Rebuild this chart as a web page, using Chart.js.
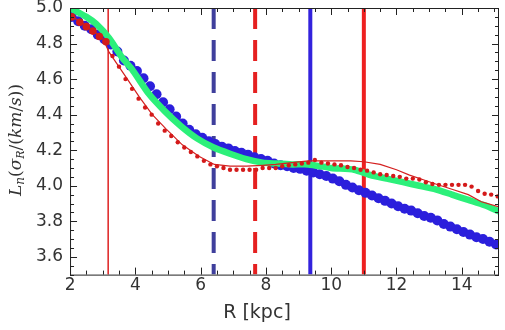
<!DOCTYPE html>
<html>
<head>
<meta charset="utf-8">
<script src="https://cdn.jsdelivr.net/npm/chart.js@4/dist/chart.umd.min.js"></script>
<style>
  html, body { margin: 0; padding: 0; background: #fff; }
</style>
</head>
<body>
<canvas id="chart" width="505" height="330"></canvas>
<script>
// axis ticks
const xTicks = [2, 4, 6, 8, 10, 12, 14];
const yTicks = [3.6, 3.8, 4.0, 4.2, 4.4, 4.6, 4.8, 5.0];

// blue circles
const blueR = [2.05, 2.25, 2.45, 2.65, 2.85, 3.05, 3.25, 3.45, 3.65, 3.85, 4.05, 4.25, 4.45, 4.65, 4.85,
  5.05, 5.25, 5.45, 5.65, 5.85, 6.05, 6.25, 6.45, 6.65, 6.85, 7.05, 7.25, 7.45, 7.65, 7.85,
  8.05, 8.25, 8.45, 8.65, 8.85, 9.05, 9.25, 9.45, 9.65, 9.85, 10.05, 10.25, 10.45, 10.65, 10.85,
  11.05, 11.25, 11.45, 11.65, 11.85, 12.05, 12.25, 12.45, 12.65, 12.85, 13.05, 13.25, 13.45, 13.65, 13.85,
  14.05, 14.25, 14.45, 14.65, 14.85, 15.05];
const blueL = [4.95, 4.925, 4.90, 4.88, 4.85, 4.825, 4.795, 4.755, 4.705, 4.675, 4.645, 4.605, 4.56, 4.515, 4.47,
  4.43, 4.39, 4.35, 4.315, 4.29, 4.27, 4.25, 4.235, 4.22, 4.21, 4.195, 4.185, 4.175, 4.16, 4.15,
  4.14, 4.125, 4.115, 4.11, 4.10, 4.095, 4.085, 4.075, 4.065, 4.055, 4.04, 4.025, 4.005, 3.99, 3.975,
  3.96, 3.945, 3.93, 3.915, 3.90, 3.885, 3.87, 3.86, 3.845, 3.83, 3.82, 3.805, 3.785, 3.77, 3.755,
  3.74, 3.725, 3.71, 3.70, 3.685, 3.67];

// green band
const greenR = [2.0, 2.5, 2.8, 3.2, 3.6, 3.9, 4.4, 4.9, 5.4, 5.9, 6.4, 6.9, 7.4, 7.9, 8.3, 8.8, 9.3,
  10.0, 10.7, 11.2, 11.7, 12.2, 12.7, 13.2, 13.7, 14.2, 14.7, 15.15];
const greenL = [5.0, 4.95, 4.91, 4.83, 4.72, 4.655, 4.52, 4.42, 4.335, 4.265, 4.215, 4.18, 4.15, 4.13, 4.125, 4.12, 4.12,
  4.10, 4.09, 4.06, 4.04, 4.02, 4.0, 3.98, 3.95, 3.92, 3.89, 3.855];

// red dots
const redDotR = [2.05, 2.3, 2.5, 2.7, 2.9, 3.1, 3.3, 3.5, 3.7, 3.9, 4.1, 4.3, 4.5, 4.7, 4.9,
  5.1, 5.3, 5.5, 5.7, 5.9, 6.1, 6.3, 6.5, 6.7, 6.9, 7.1, 7.3, 7.5, 7.7, 7.9,
  8.1, 8.3, 8.5, 8.7, 8.9, 9.1, 9.3, 9.5, 9.7, 9.9, 10.1, 10.3, 10.5, 10.7, 10.9,
  11.1, 11.3, 11.5, 11.7, 11.9, 12.1, 12.3, 12.5, 12.7, 12.9, 13.1, 13.3, 13.5, 13.7, 13.9,
  14.1, 14.3, 14.5, 14.7, 14.9, 15.1];
const redDotL = [4.95, 4.92, 4.895, 4.87, 4.84, 4.81, 4.73, 4.67, 4.60, 4.545, 4.49, 4.44, 4.40, 4.35, 4.31,
  4.28, 4.245, 4.215, 4.19, 4.165, 4.14, 4.12, 4.11, 4.10, 4.09, 4.09, 4.09, 4.09, 4.09, 4.10,
  4.10, 4.10, 4.11, 4.115, 4.12, 4.125, 4.13, 4.145, 4.13, 4.125, 4.12, 4.115, 4.105, 4.10, 4.09,
  4.085, 4.075, 4.065, 4.06, 4.055, 4.05, 4.04, 4.04, 4.035, 4.02, 4.01, 4.005, 4.005, 4.005, 4.005,
  4.005, 3.995, 3.97, 3.955, 3.95, 3.94];

// thin red line
const redLineR = [2.0, 2.5, 3.0, 3.2, 3.72, 4.12, 4.52, 4.94, 5.44, 5.96, 6.42, 6.9, 7.4, 7.9, 8.3, 8.8, 9.3,
  10.0, 10.6, 11.0, 11.5, 12.0, 12.4, 12.8, 13.2, 13.7, 14.2, 14.6, 15.15];
const redLineL = [4.96, 4.90, 4.83, 4.75, 4.61, 4.50, 4.40, 4.32, 4.23, 4.165, 4.12, 4.11, 4.11, 4.115, 4.12, 4.13, 4.14,
  4.14, 4.14, 4.135, 4.12, 4.09, 4.06, 4.035, 4.01, 3.98, 3.95, 3.91, 3.88];

// vertical markers (R in kpc)
const markThinRed = 3.17;
const markBlueDash = 6.4;
const markRedDash = 7.67;
const markBlue = 9.36;
const markRed = 11.0;

const yMin = 3.5, yMax = 5.0, xMin = 2, xMax = 15.14;

const pts = (xs, ys) => xs.map((x, i) => ({ x: x, y: ys[i] }));
const vline = x => [{ x: x, y: yMax }, { x: x, y: yMin }];

function vDataset(x, color, width, dash) {
  return {
    data: vline(x), borderColor: color, borderWidth: width, borderDash: dash || [],
    pointRadius: 0, showLine: true, clip: 0
  };
}

// frame, inward ticks and axis titles
const framePlugin = {
  id: 'frame',
  afterDraw(chart) {
    const ctx = chart.ctx;
    const a = chart.chartArea;
    const xs = chart.scales.x, ys = chart.scales.y;
    ctx.save();
    ctx.strokeStyle = '#222';
    ctx.lineWidth = 1;
    ctx.strokeRect(a.left + 0.5, a.top + 0.5, a.right - a.left - 1, a.bottom - a.top);
    ctx.beginPath();
    for (let v = 2; v <= xMax + 1e-6; v += 0.5) {
      const px = Math.round(xs.getPixelForValue(v)) + 0.5;
      const len = Math.abs(v % 2) < 1e-6 ? 7 : 4;
      ctx.moveTo(px, a.bottom); ctx.lineTo(px, a.bottom - len);
      ctx.moveTo(px, a.top); ctx.lineTo(px, a.top + len);
    }
    for (let i = 0; i <= 30; i++) {
      const v = yMin + i * 0.05;
      const py = Math.round(ys.getPixelForValue(v)) + 0.5;
      const len = (i % 4 === 2) ? 7 : 4;
      ctx.moveTo(a.left, py); ctx.lineTo(a.left + len, py);
      ctx.moveTo(a.right, py); ctx.lineTo(a.right - len, py);
    }
    ctx.stroke();

    // x title
    ctx.fillStyle = '#333';
    ctx.font = '19px "DejaVu Sans"';
    ctx.textAlign = 'center';
    ctx.textBaseline = 'middle';
    ctx.fillText('R [kpc]', 257, 313);

    // y title with subscripts
    ctx.translate(17, 140);
    ctx.rotate(-Math.PI / 2);
    const parts = [
      ['L', 'italic 17px "DejaVu Serif"', 0],
      ['n', 'italic 12px "DejaVu Serif"', 4],
      ['(', '17px "DejaVu Serif"', 0],
      ['σ', 'italic 17px "DejaVu Serif"', 0],
      ['R', 'italic 11px "DejaVu Serif"', 4],
      ['/(', '17px "DejaVu Serif"', 0],
      ['km', 'italic 17px "DejaVu Serif"', 0],
      ['/', '17px "DejaVu Serif"', 0],
      ['s', 'italic 17px "DejaVu Serif"', 0],
      ['))', '17px "DejaVu Serif"', 0]
    ];
    let total = 0;
    parts.forEach(p => { ctx.font = p[1]; total += ctx.measureText(p[0]).width; });
    let cx = -total / 2;
    ctx.textAlign = 'left';
    parts.forEach(p => {
      ctx.font = p[1];
      ctx.fillText(p[0], cx, p[2]);
      cx += ctx.measureText(p[0]).width;
    });
    ctx.restore();
  }
};

new Chart(document.getElementById('chart'), {
  type: 'scatter',
  data: {
    datasets: [
      {
        data: pts(redDotR, redDotL), showLine: false, clip: 0,
        pointRadius: c => (c.raw && c.raw.x < 3.2 ? 3.8 : 2.2),
        pointBackgroundColor: '#d41a1a', pointBorderWidth: 0
      },
      {
        data: pts(redLineR, redLineL), showLine: true, borderColor: '#d42020',
        borderWidth: 1.2, pointRadius: 0, clip: 0
      },
      {
        data: pts(greenR, greenL), showLine: true, borderColor: '#2cf07a',
        borderWidth: 6.5, pointRadius: 0, clip: 0, tension: 0.2
      },
      {
        data: pts(blueR, blueL), showLine: false, clip: 0,
        pointRadius: 5, pointBackgroundColor: '#2b1fdc', pointBorderWidth: 0
      },
      vDataset(markThinRed, '#e03030', 1),
      vDataset(markBlueDash, '#3f3f9c', 4, [21, 11]),
      vDataset(markRedDash, '#e52020', 4, [21, 11]),
      vDataset(markBlue, '#3322dd', 4),
      vDataset(markRed, '#ee2020', 4)
    ]
  },
  options: {
    responsive: false,
    animation: false,
    devicePixelRatio: 1,
    layout: { padding: { left: 29, right: 6, top: 8, bottom: 33 } },
    plugins: { legend: { display: false }, tooltip: { enabled: false } },
    scales: {
      x: {
        type: 'linear', min: xMin, max: xMax,
        grid: { display: false, drawTicks: false, tickLength: 0 }, border: { display: false },
        afterBuildTicks: axis => { axis.ticks = xTicks.map(v => ({ value: v })); },
        afterFit: axis => { axis.paddingLeft = 0; axis.paddingRight = 0; },
        ticks: { color: '#333', font: { family: 'DejaVu Sans', size: 17 }, padding: 1,
                 maxRotation: 0, callback: v => String(v) }
      },
      y: {
        type: 'linear', min: yMin, max: yMax,
        grid: { display: false, drawTicks: false, tickLength: 0 }, border: { display: false },
        afterBuildTicks: axis => { axis.ticks = yTicks.map(v => ({ value: v })); },
        afterFit: axis => { axis.paddingTop = 0; axis.paddingBottom = 0; },
        ticks: { color: '#333', font: { family: 'DejaVu Sans', size: 17 }, padding: 7,
                 callback: v => v.toFixed(1) }
      }
    }
  },
  plugins: [framePlugin]
});
</script>
</body>
</html>
